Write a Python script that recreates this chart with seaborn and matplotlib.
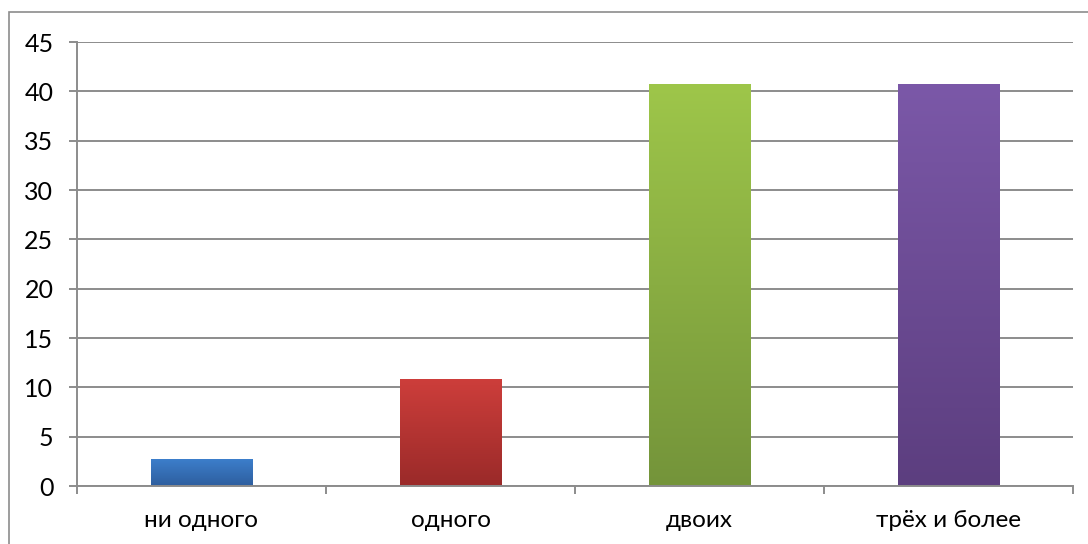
import numpy as np
import pandas as pd
import matplotlib
matplotlib.use("Agg")
import matplotlib.pyplot as plt
import seaborn as sns
from matplotlib.colors import LinearSegmentedColormap
from matplotlib.patches import Rectangle
from matplotlib.ticker import FixedLocator

categories = ["ни одного", "одного", "двоих", "трёх и более"]
values = [2.7, 10.8, 40.7, 40.7]
top_colors = ["#3c7ecb", "#cd3e3b", "#9ec64a", "#7b58a8"]
bottom_colors = ["#2e5e9e", "#9a2a29", "#74943a", "#5c3e7f"]
y_ticks = [0, 5, 10, 15, 20, 25, 30, 35, 40, 45]

sns.set_theme(style="white")
plt.rcParams["font.family"] = ["Lato", "Open Sans", "DejaVu Sans"]

W, H = 1088, 544
fig = plt.figure(figsize=(W / 100, H / 100), dpi=100)
ax = fig.add_axes([77 / W, 1 - 486 / H, (1073 - 77) / W, (486 - 42) / H])

df = pd.DataFrame({"cat": categories, "val": values})
sns.barplot(data=df, x="cat", y="val", hue="cat", palette=top_colors,
            width=0.406, legend=False, ax=ax, saturation=1, zorder=3)

# vertical gradient fill clipped to each bar
for patch, c_top, c_bot in zip(ax.patches, top_colors, bottom_colors):
    x0, y0 = patch.get_x(), patch.get_y()
    w, h = patch.get_width(), patch.get_height()
    cmap = LinearSegmentedColormap.from_list("g", [c_bot, c_top])
    grad = np.linspace(0, 1, 256).reshape(-1, 1)
    im = ax.imshow(grad, extent=[x0, x0 + w, y0, y0 + h], origin="lower",
                   cmap=cmap, aspect="auto", zorder=3.5, interpolation="bicubic")
    im.set_clip_path(patch)
    patch.set_edgecolor("none")

ax.set_xlim(-0.5, len(categories) - 0.5)
ax.set_ylim(0, 45)
ax.yaxis.set_major_locator(FixedLocator(y_ticks))
ax.set_xlabel("")
ax.set_ylabel("")

grid_c = "#8c8c8c"
ax.grid(axis="y", color=grid_c, linewidth=1.4, zorder=1)
ax.grid(axis="x", visible=False)
for s in ["top", "right"]:
    ax.spines[s].set_visible(False)
ax.spines["left"].set_color(grid_c)
ax.spines["left"].set_linewidth(1.4)
ax.spines["bottom"].set_color(grid_c)
ax.spines["bottom"].set_linewidth(1.4)
ax.spines["bottom"].set_zorder(4)

ax.tick_params(axis="y", which="major", length=6, width=1.4, color=grid_c,
               labelsize=18, labelcolor="black", pad=11, left=True)
ax.tick_params(axis="x", which="major", length=0, labelsize=17.5,
               labelcolor="black", pad=17)
ax.xaxis.set_minor_locator(FixedLocator(np.arange(-0.5, len(categories), 1.0)))
ax.tick_params(axis="x", which="minor", length=6, width=1.4, color=grid_c,
               bottom=True)

# outer chart border
fig.add_artist(Rectangle((8.5 / W, -0.1), 1.2, 1 - 12.5 / H + 0.1,
                         transform=fig.transFigure, fill=False,
                         edgecolor="#8c8c8c", linewidth=1.2))

fig.savefig("out.png", dpi=100, facecolor="white")
